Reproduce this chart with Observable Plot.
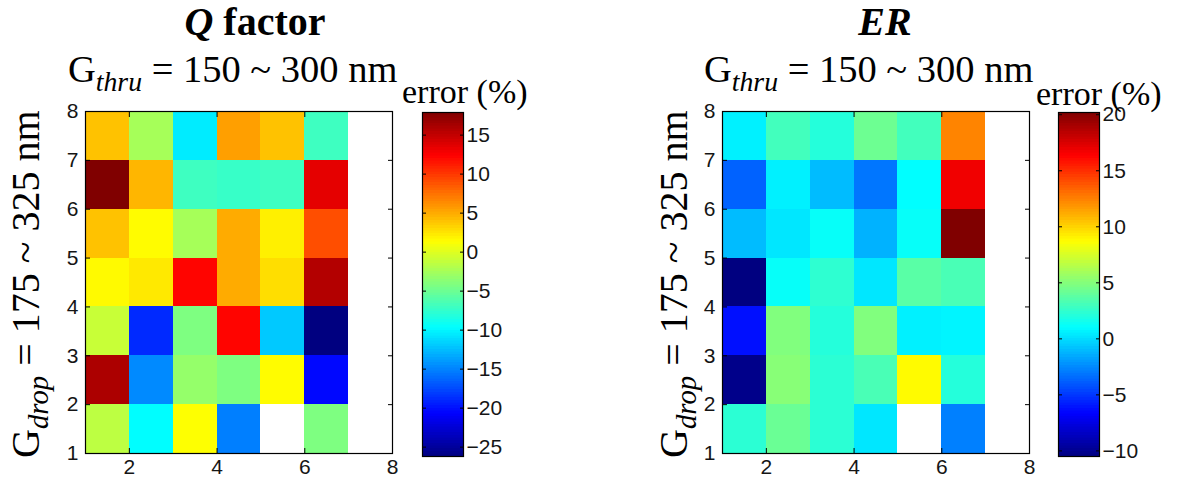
<!DOCTYPE html>
<html>
<head>
<meta charset="utf-8">
<script src="https://cdn.jsdelivr.net/npm/d3@7"></script>
<script src="https://cdn.jsdelivr.net/npm/@observablehq/plot@0.6"></script>
<style>
  html, body { margin: 0; padding: 0; background: #fff; }
  #page { position: relative; width: 1181px; height: 487px; overflow: hidden; background: #fff; }
  #page svg { position: absolute; background: transparent; overflow: visible; }
  #page svg text { font-family: 'Liberation Sans Narrow', 'Liberation Sans', Arial, sans-serif; font-size: 21px; fill: #151515; }
  .lbl { position: absolute; font-family: 'Liberation Serif', 'Times New Roman', 'DejaVu Serif', serif; color: #000; white-space: nowrap; line-height: 1; }
  .title { font-weight: bold; font-size: 40px; text-align: center; width: 300px; }
  .sub { font-size: 38.5px; }
  .sub sub, .ylab sub { font-style: italic; font-size: 0.72em; vertical-align: -0.32em; line-height: 0; }
  .unit { font-size: 34px; }
  .ylab { font-size: 40px; transform-origin: 0 0; transform: rotate(-90deg); }
</style>
</head>
<body>
<div id="page"></div>
<script>
// Grid columns (x = 1..7) and rows (y = 1..8); each cell spans [k, k+1]
const columns = [1, 2, 3, 4, 5, 6];
const rows = [1, 2, 3, 4, 5, 6, 7];

// Q factor error (%), one array per row from bottom (y = 1) to top (y = 7); null = no result
const qFactorError = [
  [-1.5, -9.7, 1.3, -15.2, null, -4.2],
  [16.0, -14.7, -3.2, -4.2, 1.5, -20.4],
  [-1.0, -18.9, -4.2, 12.2, -12.0, -26.2],
  [1.6, 2.3, 12.2, 5.0, 2.8, 15.7],
  [4.0, 1.5, -2.5, 5.0, 2.0, 9.0],
  [17.9, 4.5, -7.0, -7.3, -7.0, 13.5],
  [4.0, -2.5, -10.5, 5.5, 4.0, -7.0]
];

// Extinction ratio error (%)
const erError = [
  [2.3, 4.2, 2.3, 0.3, null, -2.8],
  [-10.2, 5.1, 2.3, 3.2, 8.8, 2.1],
  [-6.2, 4.9, 2.1, 4.9, 0.6, 0.7],
  [-10.5, 1.2, 2.4, 0.3, 3.7, 3.2],
  [-1.0, 0.3, 1.2, -1.3, 1.2, 20.2],
  [-3.7, 0.6, -1.0, -3.1, 1.0, 16.8],
  [0.6, 3.0, 2.1, 4.3, 3.0, 12.4]
];

const xTicks = [2, 4, 6, 8];
const yTicks = [1, 2, 3, 4, 5, 6, 7, 8];
const qTicks = [-25, -20, -15, -10, -5, 0, 5, 10, 15];
const erTicks = [-10, -5, 0, 5, 10, 15, 20];

// MATLAB-style "jet" colour stops
const jetStops = [0, 0.125, 0.375, 0.625, 0.875, 1];
const jetColors = ["#000080", "#0000ff", "#00ffff", "#ffff00", "#ff0000", "#800000"];

const page = document.getElementById("page");

function cellsOf(matrix) {
  const out = [];
  rows.forEach((r, i) => columns.forEach((c, j) => {
    const v = matrix[i][j];
    if (v != null) out.push({x: c, y: r, value: v});
  }));
  return out;
}

function extent(matrix) {
  return d3.extent(matrix.flat().filter(v => v != null));
}

function colorScale(matrix) {
  const [lo, hi] = extent(matrix);
  return {
    type: "linear",
    domain: jetStops.map(t => lo + t * (hi - lo)),
    range: jetColors,
    interpolate: "rgb"
  };
}

function heatmap(matrix) {
  return Plot.plot({
    width: 367, height: 387,
    marginLeft: 45, marginRight: 15, marginTop: 11, marginBottom: 34,
    x: {domain: [1, 8], label: null},
    y: {domain: [1, 8], label: null},
    color: colorScale(matrix),
    marks: [
      Plot.rect(cellsOf(matrix), {x1: "x", x2: d => d.x + 1, y1: "y", y2: d => d.y + 1, fill: "value", shapeRendering: "crispEdges"}),
      Plot.frame({stroke: "#000", strokeWidth: 1.2}),
      Plot.axisX(xTicks, {anchor: "bottom", tickSize: -5, tickPadding: 11, label: null}),
      Plot.axisX(xTicks, {anchor: "top", tickSize: -5, tickFormat: () => "", label: null}),
      Plot.axisY(yTicks, {anchor: "left", tickSize: -5, tickPadding: 12, label: null}),
      Plot.axisY(yTicks, {anchor: "right", tickSize: -5, tickFormat: () => "", label: null})
    ]
  });
}

function colorbar(matrix, ticks) {
  const [lo, hi] = extent(matrix);
  const n = 128;
  const strips = d3.range(n).map(i => ({
    y1: lo + (i / n) * (hi - lo),
    y2: lo + ((i + 1) / n) * (hi - lo),
    value: lo + ((i + 0.5) / n) * (hi - lo)
  }));
  return Plot.plot({
    width: 93, height: 387,
    marginLeft: 12, marginRight: 40, marginTop: 12, marginBottom: 31,
    x: {domain: [0, 1], axis: null},
    y: {domain: [lo, hi], label: null},
    color: colorScale(matrix),
    marks: [
      Plot.rect(strips, {x1: 0, x2: 1, y1: "y1", y2: "y2", fill: "value", stroke: "value", strokeWidth: 0.6, shapeRendering: "crispEdges"}),
      Plot.frame({stroke: "#000", strokeWidth: 1.2}),
      Plot.axisY(ticks, {anchor: "right", tickSize: -4, tickPadding: 7, label: null}),
      Plot.axisY(ticks, {anchor: "left", tickSize: -4, tickFormat: () => "", label: null})
    ]
  });
}

function place(node, left, top) {
  node.style.left = left + "px";
  node.style.top = top + "px";
  page.appendChild(node);
}

function label(html, cls, left, top) {
  const d = document.createElement("div");
  d.className = "lbl " + cls;
  d.innerHTML = html;
  place(d, left, top);
  return d;
}

place(heatmap(qFactorError), 40, 100);
place(colorbar(qFactorError, qTicks), 410, 100);
place(heatmap(erError), 677, 100);
place(colorbar(erError, erTicks), 1046, 100);

// Panel titles, sweep ranges and colour-bar units
label("<i>Q</i> factor", "title", 105, 2);
label("<i>ER</i>", "title", 735, 2);
label("G<sub>thru</sub> = 150 ~ 300 nm", "sub", 68, 50);
label("G<sub>thru</sub> = 150 ~ 300 nm", "sub", 704, 50);
label("error (%)", "unit", 402, 75);
label("error (%)", "unit", 1036, 77);
label("G<sub>drop</sub> = 175 ~ 325 nm", "ylab", 6, 458);
label("G<sub>drop</sub> = 175 ~ 325 nm", "ylab", 654, 458);
</script>
</body>
</html>
